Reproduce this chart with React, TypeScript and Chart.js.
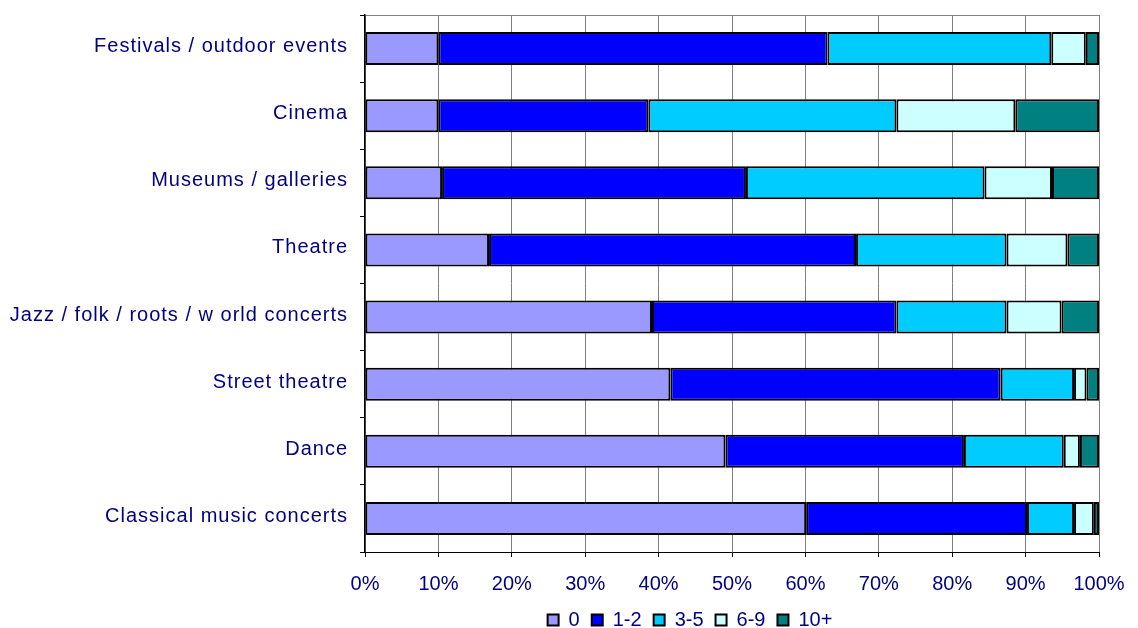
import React, { useEffect, useRef } from "react";
import { Chart, registerables } from "chart.js";

Chart.register(...registerables);

const categories = [
  "Festivals / outdoor events",
  "Cinema",
  "Museums / galleries",
  "Theatre",
  "Jazz / folk / roots / w orld concerts",
  "Street theatre",
  "Dance",
  "Classical music concerts",
];

const seriesNames = ["0", "1-2", "3-5", "6-9", "10+"];
const values0 = [10.0, 10.0, 10.5, 16.9, 39.1, 41.6, 49.1, 60.1];
const values12 = [53.0, 28.6, 41.4, 50.0, 33.3, 45.0, 32.5, 30.1];
const values35 = [30.5, 33.8, 32.5, 20.5, 15.0, 10.0, 13.6, 6.4];
const values69 = [4.7, 16.2, 9.2, 8.3, 7.5, 1.7, 2.2, 2.7];
const values10 = [1.8, 11.4, 6.4, 4.3, 5.1, 1.7, 2.6, 0.7];
const xTicks = [0, 10, 20, 30, 40, 50, 60, 70, 80, 90, 100];

const colors = ["#9999FF", "#0000FF", "#00CCFF", "#CCFFFF", "#008080"];
const FONT = "'Liberation Sans', Arial, sans-serif";
const TEXT = "#000080";

const layoutTweaks = {
  id: "layoutTweaks",
  afterLayout(chart: any) {
    const l = chart.legend;
    if (l) {
      l.left = 281;
      l.right = chart.chartArea.right;
      l.width = l.right - l.left;
    }
    const y = chart.scales.y;
    if (y && !y.__spaced) {
      y.__spaced = true;
      const orig = y.drawLabels.bind(y);
      y.drawLabels = (area: any) => {
        const ctx = chart.ctx;
        ctx.save();
        (ctx as any).letterSpacing = "1px";
        orig(area);
        ctx.restore();
      };
    }
  },
};

export default function App() {
  const ref = useRef<HTMLCanvasElement | null>(null);

  useEffect(() => {
    if (!ref.current) return;
    const all = [values0, values12, values35, values69, values10];
    const chart = new Chart(ref.current, {
      type: "bar",
      data: {
        labels: categories,
        datasets: all.map((d, i) => ({
          label: seriesNames[i],
          data: d,
          backgroundColor: colors[i],
          borderColor: "#000000",
          borderWidth: 2,
          borderSkipped: false,
          barPercentage: 0.49,
          categoryPercentage: 1,
        })),
      },
      options: {
        indexAxis: "y",
        animation: false,
        responsive: true,
        maintainAspectRatio: false,
        layout: { padding: { left: 8, right: 39, top: 15, bottom: 0 } },
        plugins: {
          tooltip: { enabled: false },
          legend: {
            position: "bottom",
            labels: {
              color: TEXT,
              font: { family: FONT, size: 20 },
              boxWidth: 11,
              boxHeight: 11,
              padding: 12,
            },
          },
        },
        scales: {
          x: {
            stacked: true,
            min: 0,
            max: 100,
            afterBuildTicks: (scale: any) => {
              scale.ticks = xTicks.map((v) => ({ value: v }));
            },
            afterFit: (scale: any) => {
              scale.height = 46;
              scale.paddingLeft = 0;
              scale.paddingRight = 0;
            },
            ticks: {
              color: TEXT,
              font: { family: FONT, size: 20 },
              padding: 15,
              callback: (v: any) => v + "%",
            },
            grid: {
              color: "#808080",
              lineWidth: 1,
              tickColor: "#000000",
              tickLength: 5,
            },
            border: { color: "#000000", width: 1 },
          },
          y: {
            stacked: true,
            offset: true,
            afterFit: (scale: any) => {
              scale.width = 357;
              scale.paddingTop = 0;
              scale.paddingBottom = 0;
            },
            ticks: {
              color: TEXT,
              font: { family: FONT, size: 20 },
              padding: 12,
              labelOffset: -2,
            },
            grid: {
              offset: true,
              drawOnChartArea: true,
              color: (ctx: any) => (ctx.index === 0 ? "#808080" : "rgba(0,0,0,0)"),
              tickColor: "#000000",
              tickLength: 5,
            },
            border: { color: "#000000", width: 1.5 },
          },
        },
      },
      plugins: [layoutTweaks],
    });
    return () => chart.destroy();
  }, []);

  return (
    <div
      style={{
        position: "fixed",
        left: 0,
        top: 0,
        width: 1138,
        height: 628,
        overflow: "hidden",
        background: "#ffffff",
      }}
    >
      <div style={{ position: "relative", width: 1138, height: 640 }}>
        <canvas ref={ref} />
      </div>
    </div>
  );
}
